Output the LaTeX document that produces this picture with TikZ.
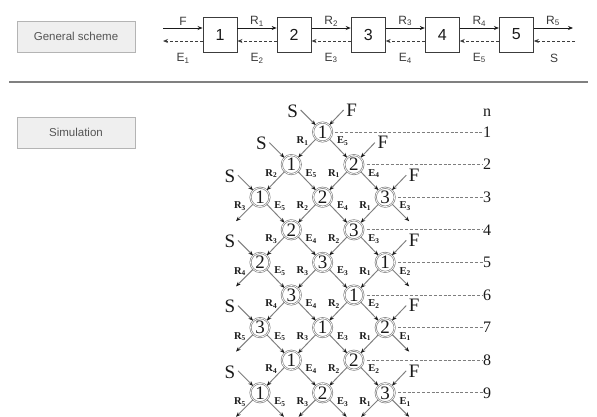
\documentclass[tikz,border=0pt]{standalone}
\usepackage{fontspec}
\setmainfont{Liberation Serif}
\newfontfamily\sansfam{Liberation Sans}
\usetikzlibrary{arrows.meta,calc}
\definecolor{boxfill}{HTML}{EFEFEF}
\definecolor{boxline}{HTML}{B4B4B4}
\definecolor{boxtext}{HTML}{555555}
\definecolor{linegray}{HTML}{7E7E7E}
\definecolor{ringgray}{HTML}{808080}
\definecolor{ink}{HTML}{1A1A1A}
\begin{document}
\begin{tikzpicture}[x=1pt,y=-1pt,
 tag/.style={draw=boxline, fill=boxfill, line width=0.8pt, minimum width=118pt, minimum height=31pt, inner sep=0pt, text=boxtext, font=\sansfam\fontsize{11.5}{13}\selectfont},
 stage/.style={draw=ink!85, line width=0.9pt, minimum width=34pt, minimum height=35pt, inner sep=0pt, font=\sansfam\fontsize{16}{18}\selectfont, text=ink},
 fwd/.style={draw=ink, line width=0.9pt, -{Stealth[length=5pt,width=4pt]}},
 bwd/.style={draw=ink!85, line width=0.9pt, dash pattern=on 3pt off 2pt, -{Stealth[length=5pt,width=4pt]}},
 tlab/.style={font=\sansfam\fontsize{12}{13}\selectfont, text=ink!85, inner sep=0pt},
 cir/.style={circle, draw=ringgray, line width=0.65pt, double=white, double distance=0.7pt, minimum size=19pt, inner sep=0pt, font=\fontsize{19}{19}\selectfont, text=ink},
 flow/.style={draw=linegray, line width=0.95pt, -{Stealth[length=4.8pt,width=3.8pt,color=ink]}},
 lab/.style={font=\bfseries\fontsize{10.5}{11}\selectfont, text=ink, inner sep=0pt},
 big/.style={font=\fontsize{19}{19}\selectfont, text=ink, inner sep=0pt},
 nlab/.style={font=\fontsize{16}{16}\selectfont, text=ink, inner sep=0pt},
 nline/.style={draw=linegray, line width=0.85pt, dash pattern=on 3pt off 1.8pt},
 sepline/.style={draw=black!50, line width=1.6pt}
]
\useasboundingbox (0,0) rectangle (597,416);
\fill[white] (0,0) rectangle (597,416);
\clip (0,0) rectangle (597,416);

% ---- general scheme ----
\node[tag] (gs) at (76,36.5) {General scheme};
\foreach \k/\x in {1/220,2/294.1,3/368.2,4/442.3,5/516.4}
  \node[stage] (b\k) at (\x,34.5) {\k};
\coordinate (fin) at (163,28);
\coordinate (eout) at (163,41);
\coordinate (rout) at (573,28);
\coordinate (sin) at (575,41);
\draw[fwd] (fin) -- (fin -| b1.west);
\draw[bwd] (eout -| b1.west) -- (eout);
\foreach \k/\kk in {1/2,2/3,3/4,4/5}{
  \draw[fwd] ($(b\k.east)+(0,-6.5)$) -- ($(b\kk.west)+(0,-6.5)$);
  \draw[bwd] ($(b\kk.west)+(0,6.5)$) -- ($(b\k.east)+(0,6.5)$);
  \node[tlab] at ($(b\k.east)!0.5!(b\kk.west)+(0,-13.5)$) {R\textsubscript{\k}};
  \node[tlab] at ($(b\k.east)!0.5!(b\kk.west)+(0,23.5)$) {E\textsubscript{\kk}};
}
\draw[fwd] (rout -| b5.east) -- (rout);
\draw[bwd] (sin) -- (sin -| b5.east);
\node[tlab] at (183,21) {F};
\node[tlab] at (183,58) {E\textsubscript{1}};
\node[tlab] at (553,21) {R\textsubscript{5}};
\node[tlab] at (554,58) {S};

\draw[sepline] (9,82) -- (588,82);

% ---- simulation ----
\node[tag] (sim) at (76,132.5) {Simulation};
\node[nlab] (nhead) at (487,113) {n};

\foreach \rr/\cc/\nn/\Rk/\Ek in {1/2/1/1/5, 2/1/1/2/5, 2/3/2/1/4, 3/0/1/3/5, 3/2/2/2/4, 3/4/3/1/3, 4/1/2/3/4, 4/3/3/2/3, 5/0/2/4/5, 5/2/3/3/3, 5/4/1/1/2, 6/1/3/4/4, 6/3/1/2/2, 7/0/3/5/5, 7/2/1/3/3, 7/4/2/1/1, 8/1/1/4/4, 8/3/2/2/2, 9/0/1/5/5, 9/2/2/3/3, 9/4/3/1/1}{
  \pgfmathsetmacro\xx{260+31.3*\cc}
  \pgfmathsetmacro\yy{132+32.6*(\rr-1)}
  \node[cir] (c\rr-\cc) at (\xx,\yy) {\nn};
  \node[lab] at (\xx-20,\yy+9) {R\textsubscript{\Rk}};
  \node[lab] at (\xx+20,\yy+9) {E\textsubscript{\Ek}};
}

% connectors between circles
\foreach \rr/\cc in {1/2, 2/1, 2/3, 3/0, 3/2, 3/4, 4/1, 4/3, 5/0, 5/2, 5/4, 6/1, 6/3, 7/0, 7/2, 7/4, 8/1, 8/3, 9/0, 9/2, 9/4}{
  \pgfmathtruncatemacro\rn{\rr+1}
  \pgfmathtruncatemacro\cL{\cc-1}
  \pgfmathtruncatemacro\cR{\cc+1}
  \pgfmathtruncatemacro\hasL{(\rr<9)&&(\cc>0)}
  \pgfmathtruncatemacro\hasR{(\rr<9)&&(\cc<4)}
  \ifnum\hasL=1
    \draw[flow] (c\rr-\cc) -- (c\rn-\cL);
  \else
    \draw[flow] (c\rr-\cc) -- ++(-24,24);
  \fi
  \ifnum\hasR=1
    \draw[flow] (c\rr-\cc) -- (c\rn-\cR);
  \else
    \draw[flow] (c\rr-\cc) -- ++(24,24);
  \fi
}

% solvent inputs
\foreach \rr/\cc in {1/2, 2/1, 3/0, 5/0, 7/0, 9/0}{
  \pgfmathsetmacro\xx{260+31.3*\cc}
  \pgfmathsetmacro\yy{132+32.6*(\rr-1)}
  \coordinate (s\rr) at (\xx-22,\yy-22);
  \draw[flow] (s\rr) -- (c\rr-\cc);
  \node[big] at (\xx-30,\yy-21) {S};
}
% feed inputs
\foreach \rr/\cc in {1/2, 2/3, 3/4, 5/4, 7/4, 9/4}{
  \pgfmathsetmacro\xx{260+31.3*\cc}
  \pgfmathsetmacro\yy{132+32.6*(\rr-1)}
  \coordinate (f\rr) at (\xx+21,\yy-22);
  \draw[flow] (f\rr) -- (c\rr-\cc);
  \node[big] at (\xx+29,\yy-22) {F};
}
% row numbers
\foreach \rr/\cc in {1/2, 2/3, 3/4, 4/3, 5/4, 6/3, 7/4, 8/3, 9/4}{
  \pgfmathsetmacro\yy{132+32.6*(\rr-1)}
  \node[nlab] (num\rr) at (487,\yy) {\rr};
  \draw[nline] ([xshift=3pt]c\rr-\cc.east) -- (num\rr.west);
}
\end{tikzpicture}
\end{document}
